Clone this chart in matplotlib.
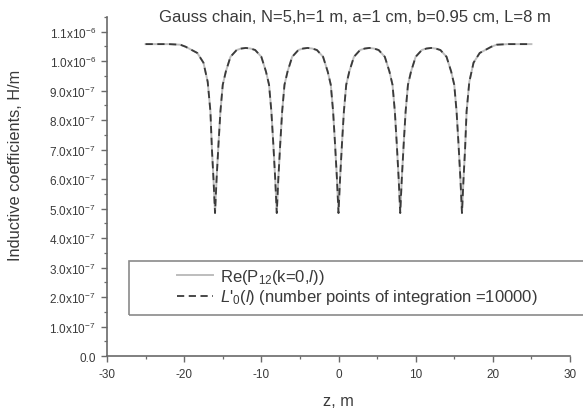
import matplotlib
matplotlib.use("Agg")
import matplotlib.pyplot as plt
import numpy as np
from matplotlib.patches import Rectangle
from matplotlib.ticker import MultipleLocator, FixedLocator

plt.rcParams['font.family'] = ['Liberation Sans', 'DejaVu Sans']
plt.rcParams['mathtext.fontset'] = 'custom'
plt.rcParams['mathtext.rm'] = 'Liberation Sans'
plt.rcParams['mathtext.it'] = 'Liberation Sans:italic'
plt.rcParams['mathtext.bf'] = 'Liberation Sans:bold'
plt.rcParams['axes.unicode_minus'] = False

TEXT_COLOR = '#3a3a3a'
AXIS_COLOR = '#6a6a6a'

# z coordinate, m
z_m = [
    -25.0, -22.0, -20.5, -19.8, -18.3, -17.5, -16.95, -16.6, -16.4, -16.2, -16.0,
    -15.8, -15.55, -15.3, -15.0, -14.6, -14.0, -13.2, -12.6, -12.0, -11.4, -10.8,
    -10.0, -9.4, -9.0, -8.7, -8.45, -8.2, -8.0,
    -7.8, -7.55, -7.3, -7.0, -6.6, -6.0, -5.2, -4.6, -4.0, -3.4, -2.8,
    -2.0, -1.4, -1.0, -0.7, -0.45, -0.2, 0.0,
    0.2, 0.45, 0.7, 1.0, 1.4, 2.0, 2.8, 3.4, 4.0, 4.6, 5.2,
    6.0, 6.6, 7.0, 7.3, 7.55, 7.8, 8.0,
    8.2, 8.45, 8.7, 9.0, 9.4, 10.0, 10.8, 11.4, 12.0, 12.6, 13.2,
    14.0, 14.6, 15.0, 15.3, 15.55, 15.8, 16.0,
    16.2, 16.4, 16.6, 16.95, 17.5, 18.3, 19.8, 20.5, 22.0, 25.0,
]

# Re(P12(k=0,l)), in units of 1e-7 H/m
re_p12 = [
    10.58, 10.58, 10.56, 10.49, 10.28, 9.95, 9.3, 8.3, 7.0, 6.0, 4.85,
    6.0, 7.2, 8.3, 9.2, 9.65, 10.15, 10.38, 10.43, 10.45, 10.43, 10.38,
    10.15, 9.65, 9.2, 8.3, 7.2, 6.0, 4.85,
    6.0, 7.2, 8.3, 9.2, 9.65, 10.15, 10.38, 10.43, 10.45, 10.43, 10.38,
    10.15, 9.65, 9.2, 8.3, 7.2, 6.0, 4.85,
    6.0, 7.2, 8.3, 9.2, 9.65, 10.15, 10.38, 10.43, 10.45, 10.43, 10.38,
    10.15, 9.65, 9.2, 8.3, 7.2, 6.0, 4.85,
    6.0, 7.2, 8.3, 9.2, 9.65, 10.15, 10.38, 10.43, 10.45, 10.43, 10.38,
    10.15, 9.65, 9.2, 8.3, 7.2, 6.0, 4.85,
    6.0, 7.0, 8.3, 9.3, 9.95, 10.28, 10.49, 10.56, 10.58, 10.58,
]

# -L'0(l), 10000 integration points -- coincides with Re(P12) on the plot
l0_minus = list(re_p12)

y_ticks = [0.0, 1e-7, 2e-7, 3e-7, 4e-7, 5e-7, 6e-7, 7e-7, 8e-7, 9e-7, 1e-6, 1.1e-6]
y_tick_labels = ['0.0'] + [r'%.1fx10$^{-7}$' % v for v in range(1, 10)] + \
                [r'1.0x10$^{-6}$', r'1.1x10$^{-6}$']

fig = plt.figure(figsize=(5.83, 4.14), dpi=100)
W, H = 583.0, 414.0
ax = fig.add_axes([107 / W, 1 - 357 / H, 463 / W, 339 / H])

z = np.array(z_m)
ax.plot(z, np.array(re_p12) * 1e-7, color='#bdbdbd', lw=1.4,
        label=r'Re(P$_{12}$(k=0,$l$))')
ax.plot(z, np.array(l0_minus) * 1e-7, color='#3a3a3a', lw=1.3, dashes=(4, 2.5),
        label=r"$L$'$_{0}$($l$) (number points of integration =10000)")

ax.set_xlim(-30, 30)
ax.set_ylim(0, 1.15e-6)
ax.xaxis.set_major_locator(MultipleLocator(10))
ax.xaxis.set_minor_locator(MultipleLocator(5))
ax.yaxis.set_major_locator(FixedLocator(y_ticks))
ax.set_yticklabels(y_tick_labels)
ax.yaxis.set_minor_locator(MultipleLocator(0.5e-7))

for side in ('top', 'right'):
    ax.spines[side].set_visible(False)
for side in ('left', 'bottom'):
    ax.spines[side].set_color(AXIS_COLOR)
    ax.spines[side].set_linewidth(1.2)

ax.tick_params(which='major', direction='out', length=4, width=1.0,
               color=AXIS_COLOR, labelsize=8.5, labelcolor=TEXT_COLOR, pad=4)
ax.tick_params(which='minor', direction='out', length=2.2, width=0.9,
               color=AXIS_COLOR)
ax.tick_params(axis='x', pad=5)

fig.text(355 / W, 1 - 17 / H, 'Gauss chain, N=5,h=1 m, a=1 cm, b=0.95 cm, L=8 m',
         ha='center', va='center', fontsize=12, color=TEXT_COLOR)
fig.text(338 / W, 1 - 402 / H, 'z, m', ha='center', va='center',
         fontsize=11.8, color=TEXT_COLOR)
fig.text(16 / W, 1 - 165 / H, 'Inductive coefficients, H/m', ha='center',
         va='center', rotation=90, fontsize=11.8, color=TEXT_COLOR)

# legend frame runs off the right edge in the original
fig.patches.append(Rectangle((129 / W, 1 - 316 / H), 470 / W, 54 / H,
                             transform=fig.transFigure, fill=False,
                             edgecolor='#8a8a8a', lw=1.2))
leg = ax.legend(loc='upper left', bbox_to_anchor=(177 / W, 1 - 268 / H),
                bbox_transform=fig.transFigure, frameon=False, borderpad=0,
                borderaxespad=0, handlelength=2.15, handletextpad=0.42,
                labelspacing=0.08, fontsize=12)
for t in leg.get_texts():
    t.set_color(TEXT_COLOR)

fig.savefig('out.png', dpi=100)
